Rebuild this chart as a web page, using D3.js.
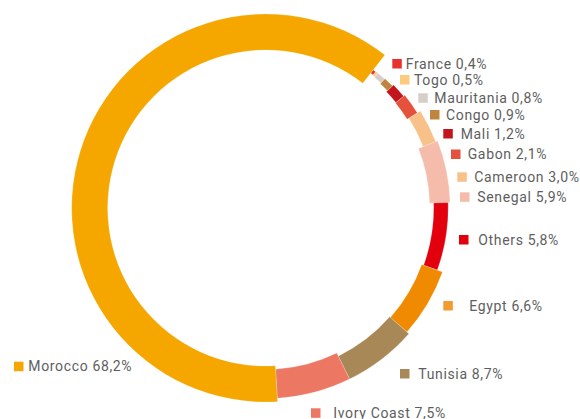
<!DOCTYPE html>
<html>
<head>
<meta charset="utf-8">
<script src="https://cdn.jsdelivr.net/npm/d3@7"></script>
<style>
  body { margin: 0; background: #fff; }
  .legend-label { font-family: Roboto, "Noto Sans", sans-serif; font-size: 14px; letter-spacing: 0.65px; fill: #5e5e5e; }
</style>
</head>
<body>
<div id="chart"></div>
<script>
// data, clockwise from the top-right gap
const countries = ["France", "Togo", "Mauritania", "Congo", "Mali", "Gabon", "Cameroon",
    "Senegal", "Others", "Egypt", "Tunisia", "Ivory Coast", "Morocco"];
const labelPct = ["0,4", "0,5", "0,8", "0,9", "1,2", "2,1", "3,0", "5,9", "5,8", "6,6", "8,7", "7,5", "68,2"];
// arc sizes as they are drawn in the source (% of circle), not to scale with the labels
const drawnShare = [0.28, 0.25, 0.8, 0.95, 1.36, 1.92, 3.0, 5.44, 6.0, 5.94, 6.28, 6.28, 61.5];

// styles
const colors = ["#e8312f", "#fccb7e", "#d6cec9", "#bf853f", "#c3161c", "#e4523b", "#f9c18a",
    "#f6bcab", "#e2000e", "#f08a00", "#a88856", "#ec7763", "#f5a700"];
const ringInner = [171, 170.5, 170, 169, 167.5, 167, 169, 164, 168, 166, 165, 161.5, 158];
const ringOuter = [175, 175.5, 175.5, 176, 177.5, 179, 182.5, 184.5, 182.5, 188, 190.5, 190.5, 194];
// legend layout: square x, square top y, text x
const legendPos = [
    [392.3, 59, 405.7], [400, 75, 414], [418.3, 93.3, 434.3], [430, 110, 446],
    [443.3, 129, 460.7], [451, 149.5, 467.7], [457.3, 172.3, 474.3], [460, 192.3, 477.3],
    [459, 235, 478.3], [443.3, 301, 469.3], [400, 369, 418.3], [311, 408.3, 333.3],
    [14, 361.7, 28.3]
];

const width = 580, height = 419;
const cx = 265.7, cy = 208;
const startDeg = 37.9;

const svg = d3.select("#chart").append("svg")
    .attr("width", width)
    .attr("height", height);

const rows = countries.map((c, i) => ({
    name: c, pct: labelPct[i], share: drawnShare[i], color: colors[i],
    r0: ringInner[i], r1: ringOuter[i], pos: legendPos[i]
}));

const pie = d3.pie()
    .sort(null)
    .value(d => d.share)
    .startAngle(startDeg * Math.PI / 180)
    .endAngle((startDeg + 360) * Math.PI / 180);

const arc = d3.arc()
    .innerRadius(d => d.data.r0)
    .outerRadius(d => d.data.r1);

const g = svg.append("g").attr("transform", `translate(${cx},${cy})`);

g.selectAll(".slice")
    .data(pie(rows))
    .enter()
    .append("path")
    .attr("class", "slice")
    .attr("d", arc)
    .attr("fill", d => d.data.color)
    .attr("stroke", "rgba(255,255,255,0.5)")
    .attr("stroke-width", 0.4);

// legend
const sq = 9.5;
const items = svg.selectAll(".legend")
    .data(rows)
    .enter()
    .append("g")
    .attr("class", "legend");

items.append("rect")
    .attr("x", d => d.pos[0])
    .attr("y", d => d.pos[1])
    .attr("width", sq)
    .attr("height", sq)
    .attr("fill", d => d.name === "Egypt" ? "#f39b30" : d.color);

items.append("text")
    .attr("class", "legend-label")
    .attr("x", d => d.pos[2])
    .attr("y", d => d.pos[1] + sq / 2 + 5)
    .text(d => `${d.name} ${d.pct}%`);
</script>
</body>
</html>
